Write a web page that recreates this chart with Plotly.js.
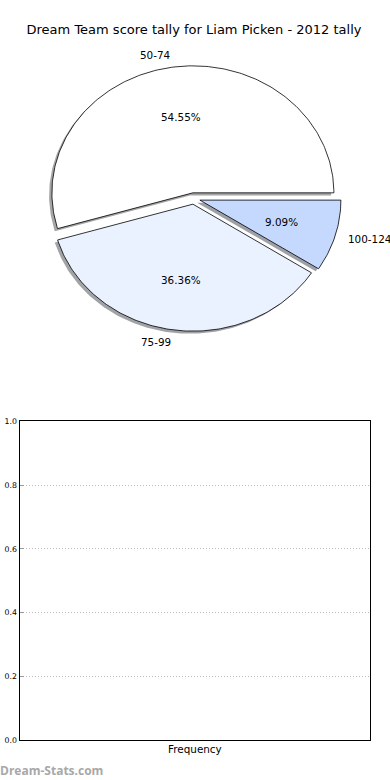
<!DOCTYPE html>
<html><head><meta charset="utf-8">
<script src="https://cdn.plot.ly/plotly-3.0.1.min.js"></script>
<style>html,body{margin:0;padding:0;background:#fff}#chart{width:390px;height:780px}</style>
</head><body><div id="chart"></div>
<script>
// ---- data ----
const categories = ["50-74", "75-99", "100-124"];
const counts = [6, 4, 1];
const sliceColors = ["#ffffff", "#eaf1ff", "#c5d9ff"];
const barCategories = ["Frequency"];
const barValues = [0];
const yTickVals = [0, 0.2, 0.4, 0.6, 0.8, 1.0];
const yTickText = ["0.0", "0.2", "0.4", "0.6", "0.8", "1.0"];
const chartTitle = "Dream Team score tally for Liam Picken - 2012 tally";
const watermark = "Dream-Stats.com";

// ---- geometry ----
const W = 390, H = 780;
const cx = 193.8, cy = 198.5, rx = 141, ry = 127, pieH = 390;
const explode = 0.045, shadowOff = 0.02;
const total = counts.reduce((a, b) => a + b, 0);
const FONT = "DejaVu Sans, sans-serif";

function shadowColor(hex) {
  const r = parseInt(hex.slice(1, 3), 16), g = parseInt(hex.slice(3, 5), 16), b = parseInt(hex.slice(5, 7), 16);
  return `rgba(${Math.round(r * 0.3)},${Math.round(g * 0.3)},${Math.round(b * 0.3)},0.5)`;
}

const traces = [];
const wedges = [];
const annotations = [];
let start = 0;
counts.forEach((v, i) => {
  const sweep = v / total * 360;
  const a1 = start, a2 = start + sweep;
  const mid = (a1 + a2) / 2 * Math.PI / 180;
  const ox = explode * Math.cos(mid), oy = explode * Math.sin(mid);
  const xs = [ox], ys = [oy];
  const n = Math.max(4, Math.ceil(sweep));
  for (let k = 0; k <= n; k++) {
    const t = (a1 + sweep * k / n) * Math.PI / 180;
    xs.push(ox + Math.cos(t)); ys.push(oy + Math.sin(t));
  }
  xs.push(ox); ys.push(oy);
  traces.push({
    type: "scatter", mode: "lines", fill: "toself", xaxis: "x", yaxis: "y",
    x: xs.map(x => x - shadowOff), y: ys.map(y => y - shadowOff),
    fillcolor: shadowColor(sliceColors[i]), line: {width: 0}, hoverinfo: "skip", showlegend: false
  });
  wedges.push({
    type: "scatter", mode: "lines", fill: "toself", xaxis: "x", yaxis: "y",
    x: xs, y: ys, fillcolor: sliceColors[i], line: {color: "#000", width: 0.8},
    name: categories[i], showlegend: false
  });
  const lx = ox + 1.1 * Math.cos(mid), ly = oy + 1.1 * Math.sin(mid);
  annotations.push({
    xref: "x", yref: "y", x: lx, y: ly, text: categories[i], showarrow: false,
    xanchor: lx > 0 ? "left" : "right", yanchor: "middle", borderpad: 0,
    xshift: lx > 0 ? -2 : 1,
    font: {family: FONT, size: 10.4, color: "#000"}
  });
  annotations.push({
    xref: "x", yref: "y", x: ox + 0.6 * Math.cos(mid), y: oy + 0.6 * Math.sin(mid),
    text: (v / total * 100).toFixed(2) + "%", showarrow: false,
    xanchor: "center", yanchor: "middle", borderpad: 0,
    font: {family: FONT, size: 10.4, color: "#000"}
  });
  start = a2;
});
traces.push(...wedges);

traces.push({
  type: "bar", x: barCategories, y: barValues, xaxis: "x2", yaxis: "y2",
  marker: {color: "#c5d9ff"}, showlegend: false
});

annotations.push({
  xref: "paper", yref: "paper", x: -1 / W, y: 1 - 770 / H, xanchor: "left", yanchor: "middle",
  text: watermark, showarrow: false, borderpad: 0,
  font: {family: "Open Sans, sans-serif", size: 12, color: "#a8a8a8", weight: "bold"}
});

const layout = {
  width: W, height: H, margin: {l: 0, r: 0, t: 0, b: 0},
  paper_bgcolor: "#fff", plot_bgcolor: "rgba(0,0,0,0)", showlegend: false,
  title: {text: chartTitle, x: 194 / W, xanchor: "center", y: 1 - 29 / H, yanchor: "middle",
    font: {family: FONT, size: 13, color: "#000"}},
  xaxis: {domain: [0, 1], range: [-cx / rx, (W - cx) / rx], visible: false, fixedrange: true},
  yaxis: {domain: [1 - pieH / H, 1], range: [-(pieH - cy) / ry, cy / ry], visible: false, fixedrange: true},
  xaxis2: {domain: [19.5 / W, 370.3 / W], anchor: "y2", type: "category", range: [-0.5, 0.5],
    showline: true, mirror: true, linecolor: "#000", linewidth: 1, ticks: "", showgrid: false,
    zeroline: false, tickfont: {family: FONT, size: 10.4, color: "#000"}},
  yaxis2: {domain: [1 - 740 / H, 1 - 421.3 / H], anchor: "x2", range: [0, 1],
    tickvals: yTickVals, ticktext: yTickText, ticks: "inside", ticklen: 4, tickcolor: "#999",
    showline: true, mirror: true, linecolor: "#000", linewidth: 1,
    showgrid: true, gridcolor: "#bdbdbd", griddash: "1px,2px", gridwidth: 1, zeroline: false,
    tickfont: {family: FONT, size: 7.8, color: "#000"}},
  annotations: annotations
};

Plotly.newPlot("chart", traces, layout, {staticPlot: true, displayModeBar: false});
</script>
</body></html>
